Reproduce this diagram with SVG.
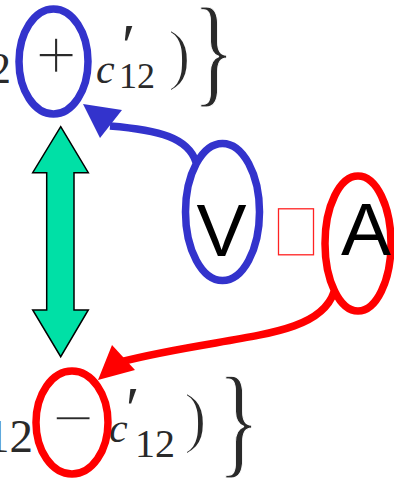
<svg xmlns="http://www.w3.org/2000/svg" width="394" height="487" viewBox="0 0 394 487">
<style>
.m{font-family:"Liberation Serif","DejaVu Serif",serif;fill:#2a2a2a}
.thin{stroke:#fff;stroke-width:1.6}
.br{stroke:#fff;stroke-width:1.2}
.i{font-style:italic}
.big{font-family:"Liberation Sans",Arial,sans-serif;font-size:75px;fill:#000}
.eb{fill:none;stroke:#3333cc;stroke-width:7.5}
.er{fill:none;stroke:#ff0000;stroke-width:7.5}
.cb{fill:none;stroke:#3333cc;stroke-width:7.5}
.cr{fill:none;stroke:#ff0000;stroke-width:7.5}
</style>
<rect width="394" height="487" fill="#fff"/>
<g id="formula-top">
<text class="m" x="11" y="83" font-size="44" text-anchor="end">2</text>
<text class="m i" x="96" y="83" font-size="42">c</text>
<text class="m i" x="118" y="66" font-size="62">′</text>
<text class="m" x="119" y="88" font-size="36">12</text>
<text class="m thin" x="168" y="77" font-size="68">)</text>
<text class="m br" transform="translate(193,91) scale(0.72,1)" font-size="120">}</text>
</g>
<g id="formula-bottom">
<text class="m" x="33" y="452" font-size="47" text-anchor="end">12</text>
<text class="m i" x="109" y="442" font-size="42">c</text>
<text class="m i" x="122" y="429" font-size="62">′</text>
<text class="m" x="135" y="457" font-size="40">12</text>
<text class="m thin" x="184" y="440" font-size="68">)</text>
<text class="m br" transform="translate(218,462) scale(0.72,1.03)" font-size="120">}</text>
</g>
<g id="plus-node">
<text class="m thin" x="56" y="80" font-size="74" text-anchor="middle">+</text>
<ellipse class="eb" cx="53.5" cy="61.5" rx="34.5" ry="52.5"/>
</g>
<g id="minus-node">
<text class="m thin" x="73" y="443" font-size="74" text-anchor="middle">−</text>
<ellipse class="er" cx="72" cy="422.5" rx="36" ry="51.5"/>
</g>
<g id="V-node">
<ellipse class="eb" cx="222.5" cy="212" rx="37" ry="68.5"/>
<text class="big" x="221.5" y="256" text-anchor="middle">V</text>
</g>
<g id="box">
<rect x="278.5" y="208.8" width="35" height="46" fill="none" stroke="#f22" stroke-width="1.3"/>
</g>
<g id="A-node">
<ellipse class="er" cx="358" cy="243.5" rx="33" ry="67.5"/>
<text class="big" x="366" y="255" text-anchor="middle">A</text>
</g>
<g id="double-arrow">
<polygon points="60.7,126.7 88.3,172.7 74,172.7 74,310 88.3,310 60.7,356.7 32.7,310 46.7,310 46.7,172.7 32.7,172.7" fill="#00e0a6" stroke="#000" stroke-width="1.5" stroke-linejoin="miter"/>
</g>
<g id="connectors">
<path class="cb" d="M196,162 C188,138 160,130 110,126"/>
<polygon points="83,104 122,110 100,138" fill="#3333cc"/>
<path class="cr" d="M334,292 C318,340 230,334 120,362"/>
<polygon points="98,380 112,345 135,370" fill="#ff0000"/>
</g>
</svg>
